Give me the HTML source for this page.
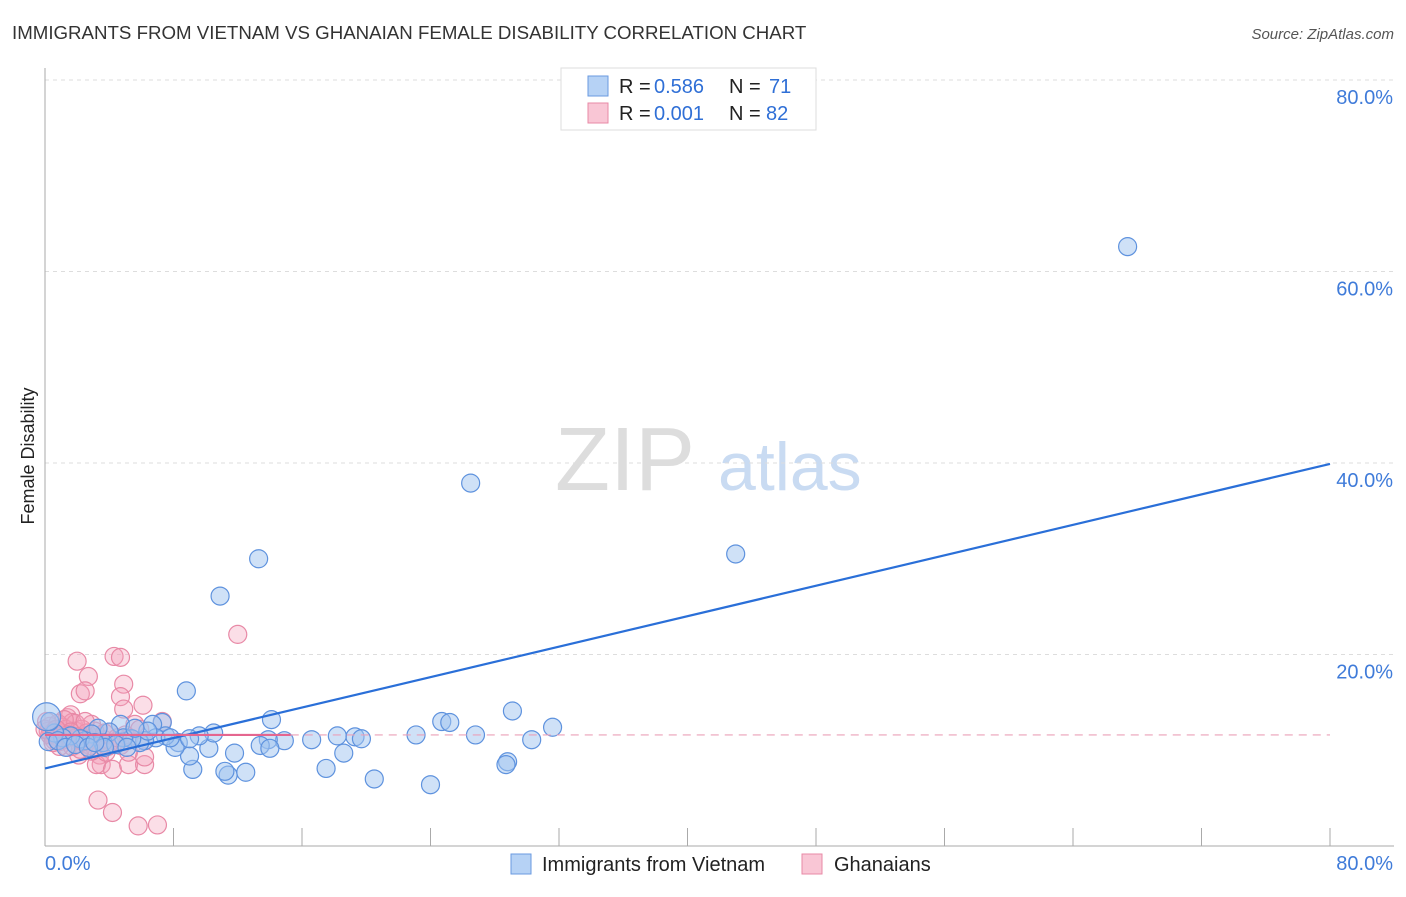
<!DOCTYPE html>
<html><head><meta charset="utf-8"><style>
body{margin:0;background:#fff;font-family:"Liberation Sans",sans-serif;}
svg text{font-family:"Liberation Sans",sans-serif;}
</style></head><body>
<svg id="c" width="1406" height="892">
<text x="12" y="39" font-size="18.7" fill="#333">IMMIGRANTS FROM VIETNAM VS GHANAIAN FEMALE DISABILITY CORRELATION CHART</text>
<text x="1394" y="39" font-size="15" fill="#555" text-anchor="end" font-style="italic">Source: ZipAtlas.com</text>
<text x="34" y="456" font-size="18" fill="#222" text-anchor="middle" transform="rotate(-90 34 456)">Female Disability</text>
<text x="555" y="490" font-size="90" fill="#ddd" font-family="Liberation Serif">ZIP</text>
<text x="718" y="490" font-size="68" fill="#c9dbf2">atlas</text>
<g id="grid"></g><g id="pts"></g><g id="lines"></g>
<g>
<rect x="561" y="68" width="255" height="62" fill="#fff" stroke="#ddd"/>
<rect x="588" y="76" width="20" height="20" fill="#b6d2f5" stroke="#6a9ae0"/>
<text x="619" y="93" font-size="20" fill="#222">R =</text>
<text x="654" y="93" font-size="20" fill="#2f6fd6">0.586</text>
<text x="729" y="93" font-size="20" fill="#222">N =</text>
<text x="769" y="93" font-size="20" fill="#2f6fd6">71</text>
<rect x="588" y="103" width="20" height="20" fill="#f9c6d5" stroke="#e889a6"/>
<text x="619" y="120" font-size="20" fill="#222">R =</text>
<text x="654" y="120" font-size="20" fill="#2f6fd6">0.001</text>
<text x="729" y="120" font-size="20" fill="#222">N =</text>
<text x="766" y="120" font-size="20" fill="#2f6fd6">82</text>
</g>
<g>
<rect x="511" y="854" width="20" height="20" fill="#b6d2f5" stroke="#6a9ae0"/>
<text x="542" y="871" font-size="20" fill="#222">Immigrants from Vietnam</text>
<rect x="802" y="854" width="20" height="20" fill="#f9c6d5" stroke="#e889a6"/>
<text x="834" y="871" font-size="20" fill="#222">Ghanaians</text>
</g>
</svg>
<script>
const xTicks=[0,10,20,30,40,50,60,70,80];
const yTicks=[20,40,60,80];
const blueX=[67.4,26.5,43,13.3,10.9,8.8,29.1,31.6,24.7,25.2,14.1,26.8,23.1,30.3,28.8,28.7,18.2,19.3,19.7,16.6,18.6,17.5,20.5,24,14.9,13.9,13.4,14,11.8,12.5,11.4,11.2,9.2,9,10.2,10.5,9.6,8.3,8.1,7.3,6.7,7.5,6.9,6.2,5.9,5.4,4.7,4.9,4.0,3.6,3.3,2.9,2.5,2.2,1.6,1.1,0.6,0.3,0.2,4.4,3.7,6.4,7.8,5.1,0.8,1.3,1.9,2.7,3.1,5.6,9.0,0.1];
const blueY=[62.6,37.9,30.5,30,26.1,16.2,14.1,12.4,13,12.9,13.2,11.6,11.6,11.1,8.8,8.5,11.5,11.4,11.2,11.1,9.7,8.1,7,6.4,11,11.1,10.5,10.2,9.7,7.7,7.4,7.8,8,9.4,10.2,11.8,11.5,10.8,10.3,12.9,12.7,11.5,11.3,11,10.8,11.2,12.7,11.3,11.9,10.8,12.3,11.7,11,11.2,11.5,11.3,11.8,13,10.9,10.6,10.3,12,11.3,10.3,11,10.3,10.6,10.3,10.8,12.3,11.2,13.5];
const blueR=[9,9,9,9,9,9,9,9,9,9,9,9,9,9,9,9,9,9,9,9,9,9,9,9,9,9,9,9,9,9,9,9,9,9,9,9,9,9,9,9,9,9,9,9,9,9,9,9,9,9,9,9,9,9,9,9,9,9,9,9,9,9,9,9,9,9,9,9,9,9,9,14];
const pinkX=[12,2,4.3,4.7,2.7,2.2,2.5,4.9,4.7,6.1,4.9,7.3,1.4,1.6,1.7,1.1,0.6,0.4,0.8,1.2,0.3,0.2,0.9,1.9,2.2,2.5,2.8,3.1,3.4,3.7,4.0,4.4,4.7,5.2,5.6,5.9,3.4,3.5,3.2,4.2,3.8,5.2,5.2,6.2,6.2,5,6.2,2.1,2.7,1.4,3.3,4.2,5.8,7,2.9,1.6,0.6,0.3,1.1,0.8,1.3,1.9,2.3,2.6,3.1,3.7,1.7,2.2,0.9,0.5,3.9,4.5,0,0.1,1.2,2.5,2.9,1.6,2,2.4,1.4,0.7];
const pinkY=[22.1,19.3,19.8,19.7,17.7,15.9,16.2,16.9,15.6,14.7,14.3,13,13.4,13.7,12.9,12.4,12.1,11.7,11.4,11.1,12.5,12,10.9,12,11,11.5,10.5,11.3,10.9,11.1,11.9,10.9,10.5,11.3,12.7,12.2,9.5,8.5,8.5,8,9.8,8.5,9.8,8.5,9.3,11.6,11,9.5,11,10.3,4.8,3.5,2.1,2.2,12.7,11.6,11,11.6,11.8,12.8,12.2,12.8,12.2,11.8,12,11.8,10.4,10.1,10.4,10.8,10.4,11.3,12.2,13,13.2,13,9.9,11.9,11.4,10.9,11.6,12.2];
const X0=45,X1=1330,Y0=846,PY=9.575;
const sx=v=>X0+(X1-X0)*v/80, sy=v=>Y0-v*PY;
const NS='http://www.w3.org/2000/svg';
function mk(t,a,p){const e=document.createElementNS(NS,t);for(const k in a)e.setAttribute(k,a[k]);p.appendChild(e);return e;}
const g=document.getElementById('grid');
for(const t of yTicks){
 const l=mk('line',{x1:X0,x2:1394,y1:sy(t),y2:sy(t),stroke:'#ddd','stroke-dasharray':'4,4'},g);
 
 
 const tx=mk('text',{x:1393,y:sy(t)+24,'font-size':20,fill:'#3f7bd9','text-anchor':'end'},g);tx.textContent=t.toFixed(1)+'%';
 
 
}
mk('line',{x1:X0,x2:X0,y1:68,y2:Y0,stroke:'#aaa'},g);
mk('line',{x1:X0,x2:1394,y1:Y0,y2:Y0,stroke:'#aaa'},g);
for(let i=0;i<=10;i++){const x=sx(i*8);const l=mk('line',{x1:x,x2:x,y1:828,y2:Y0,stroke:'#aaa'},g);
 
 }
const t0=mk('text',{x:45,y:870,'font-size':20,fill:'#3f7bd9'},g);t0.textContent='0.0%';


const t1=mk('text',{x:1393,y:870,'font-size':20,fill:'#3f7bd9','text-anchor':'end'},g);t1.textContent='80.0%';


const p=document.getElementById('pts');
pinkX.forEach((v,i)=>{const c=mk('circle',{cx:sx(v),cy:sy(pinkY[i]),r:9,fill:'rgba(243,160,186,0.35)',stroke:'#e889a6','stroke-width':1.2},p);
 
 });
blueX.forEach((v,i)=>{const c=mk('circle',{cx:sx(v),cy:sy(blueY[i]),r:blueR[i],fill:'rgba(160,196,240,0.5)',stroke:'#5e92de','stroke-width':1.2},p);
 
 });
const L=document.getElementById('lines');
const b=mk('line',{x1:sx(0),y1:sy(8.1),x2:sx(80),y2:sy(39.9),stroke:'#2a6fd8','stroke-width':2.2},L);


const pk=mk('line',{x1:sx(0),y1:sy(11.6),x2:sx(15.3),y2:sy(11.6),stroke:'#e5668f','stroke-width':2.2},L);


const pd=mk('line',{x1:sx(15.3),y1:sy(11.6),x2:sx(80),y2:sy(11.6),stroke:'#eba0b8','stroke-width':1.2,'stroke-dasharray':'8,6'},L);


</script>
</body></html>
